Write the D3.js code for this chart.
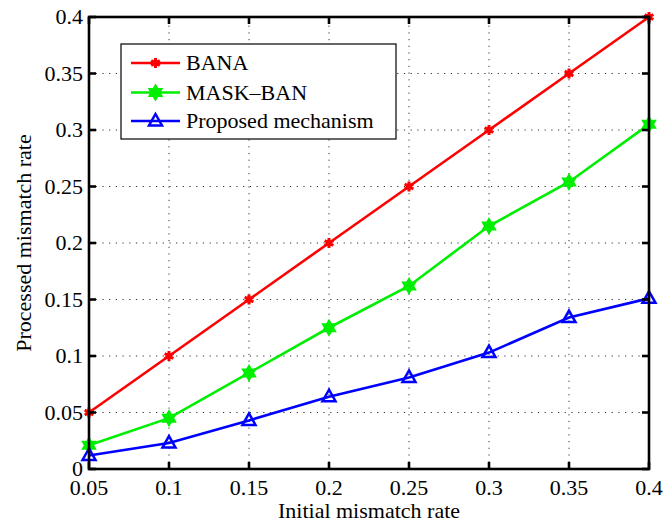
<!DOCTYPE html>
<html lang="en">
<head>
<meta charset="UTF-8">
<title>Processed vs initial mismatch rate</title>
<script src="https://d3js.org/d3.v7.min.js"></script>
<style>
    body { margin: 0; padding: 0; background: #fff; }
    svg { font-family: "Liberation Serif", "Times New Roman", serif; }
    .grid line { stroke: #333; stroke-width: 1; stroke-dasharray: 1.2, 5.5; }
</style>
</head>
<body>
<svg id="chart"></svg>
<script>
    // values
    const xValues = [0.05, 0.1, 0.15, 0.2, 0.25, 0.3, 0.35, 0.4];
    const bana = [0.05, 0.1, 0.15, 0.2, 0.25, 0.3, 0.35, 0.4];
    const maskBan = [0.021, 0.045, 0.085, 0.125, 0.162, 0.215, 0.254, 0.305];
    const proposed = [0.012, 0.023, 0.043, 0.064, 0.081, 0.103, 0.134, 0.151];
    const seriesNames = ["BANA", "MASK\u2013BAN", "Proposed mechanism"];
    const xTickLabels = ["0.05", "0.1", "0.15", "0.2", "0.25", "0.3", "0.35", "0.4"];
    const yTicks = [0, 0.05, 0.1, 0.15, 0.2, 0.25, 0.3, 0.35, 0.4];
    const yTickLabels = ["0", "0.05", "0.1", "0.15", "0.2", "0.25", "0.3", "0.35", "0.4"];

    const width = 665, height = 527;
    const margin = { top: 17, right: 16, bottom: 58, left: 89 };

    const svg = d3.select("#chart").attr("width", width).attr("height", height);

    const x = d3.scaleLinear().domain([0.05, 0.4]).range([margin.left, width - margin.right]);
    const y = d3.scaleLinear().domain([0, 0.4]).range([height - margin.bottom, margin.top]);

    const x0 = x.range()[0], x1 = x.range()[1];
    const y0 = y.range()[0], y1 = y.range()[1];

    // dotted grid
    const grid = svg.append("g").attr("class", "grid");
    grid.selectAll(".gx").data(xValues.slice(1, -1)).enter().append("line")
        .attr("x1", d => x(d)).attr("x2", d => x(d))
        .attr("y1", y0).attr("y2", y1);
    grid.selectAll(".gy").data(yTicks.slice(1, -1)).enter().append("line")
        .attr("x1", x0).attr("x2", x1)
        .attr("y1", d => y(d)).attr("y2", d => y(d));

    // series
    const series = [
        { name: seriesNames[0], values: bana, color: "#ff0000", marker: "asterisk" },
        { name: seriesNames[1], values: maskBan, color: "#00ee00", marker: "hexagram" },
        { name: seriesNames[2], values: proposed, color: "#0000ff", marker: "triangle" }
    ];

    function hexagram(r) {
        const pts = [];
        for (let i = 0; i < 12; i++) {
            const a = -Math.PI / 2 + i * Math.PI / 6;
            const rr = i % 2 === 0 ? r : r * 0.58;
            pts.push([rr * Math.cos(a), rr * Math.sin(a)]);
        }
        return "M" + pts.map(p => p.join(",")).join("L") + "Z";
    }

    function drawMarker(g, s) {
        if (s.marker === "asterisk") {
            g.append("path")
                .attr("d", d3.symbol().type(d3.symbolAsterisk).size(70)())
                .attr("stroke", s.color).attr("stroke-width", 3).attr("fill", "none");
            g.append("circle").attr("r", 3.2).attr("fill", s.color);
        } else if (s.marker === "hexagram") {
            g.append("path")
                .attr("d", hexagram(7.5))
                .attr("fill", s.color).attr("stroke", s.color).attr("stroke-width", 1.5);
        } else {
            g.append("path")
                .attr("d", "M0,-7L6.5,4.5L-6.5,4.5Z")
                .attr("fill", "none").attr("stroke", s.color).attr("stroke-width", 2.5)
                .attr("stroke-linejoin", "miter");
        }
    }

    const line = d3.line().x((d, i) => x(xValues[i])).y(d => y(d));

    series.forEach(s => {
        svg.append("path")
            .datum(s.values)
            .attr("d", line)
            .attr("fill", "none")
            .attr("stroke", s.color)
            .attr("stroke-width", 2.6);
        s.values.forEach((v, i) => {
            const g = svg.append("g").attr("transform", `translate(${x(xValues[i])},${y(v)})`);
            drawMarker(g, s);
        });
    });

    // axes box and inward ticks
    const axes = svg.append("g");
    axes.append("rect")
        .attr("x", x0).attr("y", y1)
        .attr("width", x1 - x0).attr("height", y0 - y1)
        .attr("fill", "none").attr("stroke", "#000").attr("stroke-width", 2.6);

    const tickLen = 7;
    xValues.forEach(v => {
        axes.append("line").attr("x1", x(v)).attr("x2", x(v)).attr("y1", y0).attr("y2", y0 - tickLen)
            .attr("stroke", "#000").attr("stroke-width", 2.6);
        axes.append("line").attr("x1", x(v)).attr("x2", x(v)).attr("y1", y1).attr("y2", y1 + tickLen)
            .attr("stroke", "#000").attr("stroke-width", 2.6);
    });
    yTicks.forEach(v => {
        axes.append("line").attr("x1", x0).attr("x2", x0 + tickLen).attr("y1", y(v)).attr("y2", y(v))
            .attr("stroke", "#000").attr("stroke-width", 2.6);
        axes.append("line").attr("x1", x1).attr("x2", x1 - tickLen).attr("y1", y(v)).attr("y2", y(v))
            .attr("stroke", "#000").attr("stroke-width", 2.6);
    });

    // tick labels
    svg.selectAll(".xl").data(xValues).enter().append("text")
        .attr("x", d => x(d)).attr("y", y0 + 26)
        .attr("text-anchor", "middle")
        .attr("font-size", "22px")
        .text((d, i) => xTickLabels[i]);

    svg.selectAll(".yl").data(yTicks).enter().append("text")
        .attr("x", x0 - 6).attr("y", d => y(d))
        .attr("dy", "0.34em")
        .attr("text-anchor", "end")
        .attr("font-size", "22px")
        .text((d, i) => yTickLabels[i]);

    // axis titles
    svg.append("text")
        .attr("x", (x0 + x1) / 2).attr("y", 518)
        .attr("text-anchor", "middle")
        .attr("font-size", "22px")
        .text("Initial mismatch rate");

    svg.append("text")
        .attr("transform", `translate(31,${(y0 + y1) / 2}) rotate(-90)`)
        .attr("text-anchor", "middle")
        .attr("font-size", "22px")
        .text("Processed mismatch rate");

    // legend
    const legend = svg.append("g");
    legend.append("rect")
        .attr("x", 121).attr("y", 44).attr("width", 275).attr("height", 95)
        .attr("fill", "#fff").attr("stroke", "#000").attr("stroke-width", 1.2);

    const rowY = [63, 92.5, 121];
    series.forEach((s, i) => {
        legend.append("line")
            .attr("x1", 131).attr("x2", 180).attr("y1", rowY[i]).attr("y2", rowY[i])
            .attr("stroke", s.color).attr("stroke-width", 2.6);
        const g = legend.append("g").attr("transform", `translate(155.5,${rowY[i]})`);
        drawMarker(g, s);
        legend.append("text")
            .attr("x", 186).attr("y", rowY[i]).attr("dy", "0.34em")
            .attr("font-size", "22px")
            .text(s.name);
    });
</script>
</body>
</html>
